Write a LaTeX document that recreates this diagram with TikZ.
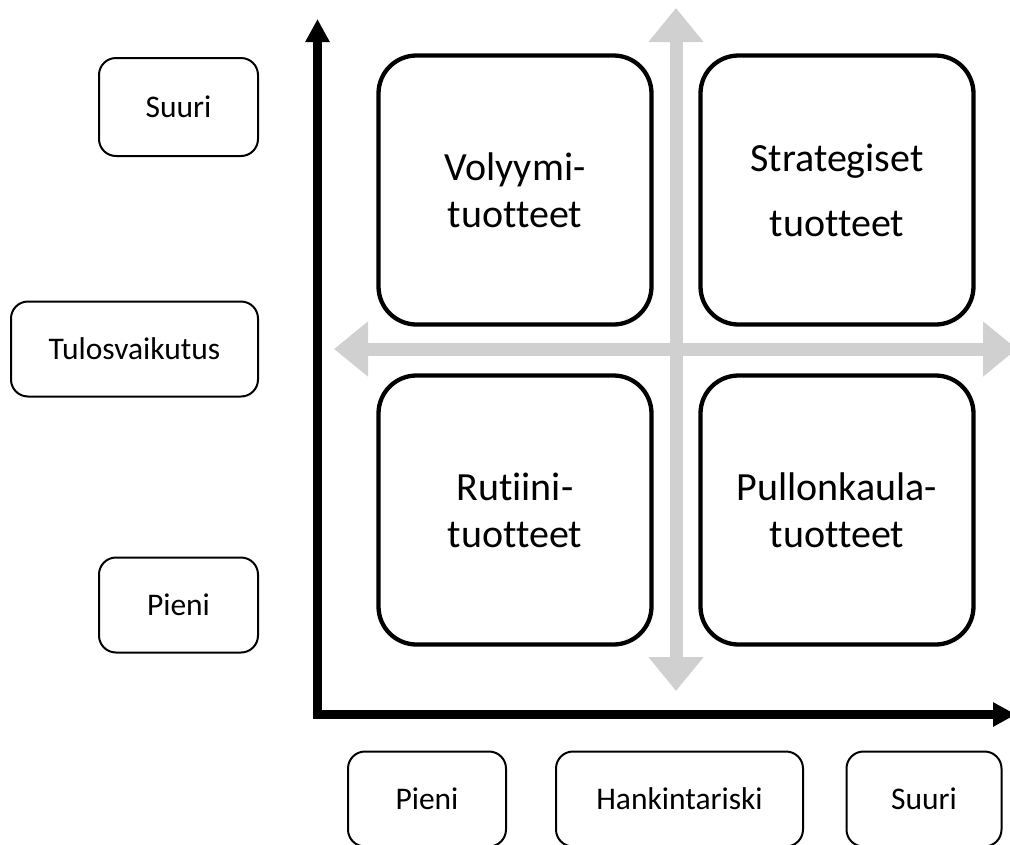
\documentclass[tikz,border=0pt]{standalone}
\usepackage{fontspec}
\setmainfont{Carlito}[Ligatures=NoCommon]
\usetikzlibrary{arrows.meta}
\definecolor{crossgray}{RGB}{208,208,208}
\begin{document}
\begin{tikzpicture}[x=1pt,y=-1pt,
  quad/.style={draw=black, line width=4.3pt, fill=white, rounded corners=38pt,
    minimum width=273pt, minimum height=269pt, inner sep=0pt, align=center,
    font=\fontsize{40}{47}\selectfont},
  lab/.style={draw=black, line width=2pt, fill=white, rounded corners=17pt,
    minimum height=95pt, inner sep=0pt, align=center,
    font=\fontsize{31.5}{38}\selectfont},
  crossarrow/.style={draw=crossgray, line width=13pt,
    {Triangle[width=53pt,length=34pt]}-{Triangle[width=53pt,length=34pt]}},
  axisline/.style={draw=black, line width=8.5pt, line join=miter,
    {Triangle[width=23pt,length=23pt]}-{Triangle[width=23pt,length=23pt]}}
]
\useasboundingbox (0,0) rectangle (1010,844);
\clip (0,0) rectangle (1010,844);

% gray cross
\coordinate (vtop) at (676,8);
\coordinate (vbot) at (676,691);
\coordinate (hleft) at (334,349);
\coordinate (hright) at (1017,349);
\draw[crossarrow] (vtop) -- (vbot);
\draw[crossarrow] (hleft) -- (hright);

% axes
\coordinate (ytip) at (317.5,19);
\coordinate (origin) at (317.5,714.5);
\coordinate (xtip) at (1016,714.5);
\draw[axisline] (ytip) -- (origin) -- (xtip);

% quadrants
\node[quad] (vol) at (515,190) {Volyymi-\\tuotteet};
\node[quad] (str) at (837,190) {Strategiset\\[18pt]tuotteet};
\node[quad] (rut) at (515,510) {Rutiini-\\tuotteet};
\node[quad] (pul) at (837,510) {Pullonkaula-\\tuotteet};

% left labels
\node[lab, minimum width=159pt, minimum height=98pt] (ysuuri) at (178.5,107) {Suuri};
\node[lab, minimum width=247pt] (ytulos) at (134.5,349) {Tulosvaikutus};
\node[lab, minimum width=159pt] (ypieni) at (178.5,605) {Pieni};

% bottom labels
\node[lab, minimum width=158pt] (xpieni) at (427,799) {Pieni};
\node[lab, minimum width=247pt] (xhank) at (679.5,799) {Hankintariski};
\node[lab, minimum width=155pt] (xsuuri) at (924,799) {Suuri};
\end{tikzpicture}
\end{document}
